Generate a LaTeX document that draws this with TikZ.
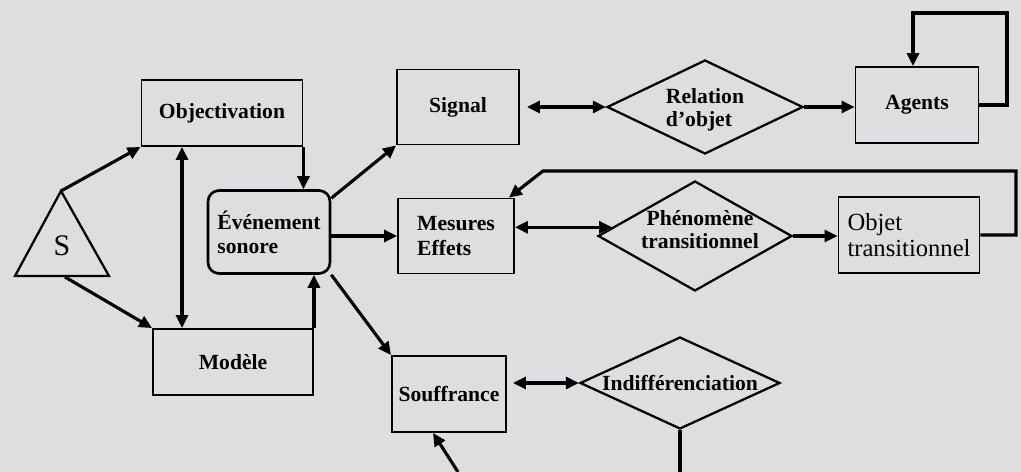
\documentclass[tikz,border=0pt]{standalone}
\usepackage{fontspec}
\setmainfont{Liberation Serif}
\usetikzlibrary{arrows.meta,shapes.geometric}

\definecolor{paper}{RGB}{221,222,224}

\tikzset{
  box/.style={draw, line width=1.1pt, rectangle, inner sep=2pt,
    font=\fontsize{12.3}{13.8}\selectfont\bfseries},
  dia/.style={draw, line width=1.3pt, diamond, inner sep=0pt},
  wire/.style={line width=1.8pt},
  arr/.style={wire, -{Triangle[length=0.26cm,width=0.24cm]}},
  dblarr/.style={wire, {Triangle[length=0.26cm,width=0.24cm]}-{Triangle[length=0.26cm,width=0.24cm]}},
  txt/.style={font=\fontsize{12.3}{13.2}\selectfont\bfseries, align=left}
}

\begin{document}
\begin{tikzpicture}[x=0.02cm, y=-0.02cm]
  \useasboundingbox (0,0) rectangle (1021,472);
  \fill[paper] (0,0) rectangle (1021,472);

  % Source triangle
  \coordinate (Stop) at (61,191);
  \coordinate (Sleft) at (15,276);
  \coordinate (Sright) at (109,276);
  \coordinate (Sbase) at (65,277);
  \draw[line width=1.3pt] (Stop) -- (Sleft) -- (Sright) -- cycle;
  \node[font=\fontsize{17}{17}\selectfont] (S) at (62,246) {S};

  % Left column
  \node[box, minimum width=3.22cm, minimum height=1.32cm] (obj) at (222,113) {Objectivation};
  \node[box, minimum width=3.2cm, minimum height=1.32cm] (mod) at (233,362) {Modèle};
  \node[box, line width=1.5pt, rounded corners=0.22cm, minimum width=2.44cm,
    minimum height=1.66cm, align=left] (ev) at (269,232) {Événement\\sonore};

  % Middle column
  \node[box, minimum width=2.44cm, minimum height=1.5cm] (sig) at (458,107) {Signal};
  \node[box, minimum width=2.32cm, minimum height=1.5cm, align=left] (mes) at (456,236) {Mesures\\Effets};
  \node[box, minimum width=2.28cm, minimum height=1.52cm] (souf) at (449,394) {Souffrance};

  % Diamonds
  \node[dia, minimum width=3.92cm, minimum height=1.88cm,
    label={[txt, yshift=-0.06cm]center:Relation\\d'objet}] (rel) at (705,107) {};
  \node[dia, minimum width=3.88cm, minimum height=2.2cm,
    label={[txt, align=center, xshift=0.1cm, yshift=0.12cm]center:Phénomène\\transitionnel}] (phe) at (695,236) {};
  \node[dia, minimum width=4.0cm, minimum height=1.84cm,
    label={[txt]center:Indifférenciation}] (ind) at (680,383) {};

  % Right column
  \node[box, minimum width=2.46cm, minimum height=1.52cm] (ag) at (917,105) {Agents};
  \node[box, font=\fontsize{14}{15}\selectfont, minimum width=2.82cm,
    minimum height=1.52cm, align=left] (obt) at (909,235) {Objet\\transitionnel};

  % Connections from S
  \draw[arr] (Stop) -- (obj.south west);
  \draw[arr] (Sbase) -- (mod.north west);
  \coordinate (link) at (182,0);
  \draw[dblarr] (obj.south -| link) -- (mod.north -| link);
  \draw[arr] (obj.south east) -- (obj.south east |- ev.north);
  \draw[arr] (mod.north east) -- (mod.north east |- ev.south);

  % From the sound event
  \draw[arr] ([yshift=-0.18cm]ev.north east) -- (sig.south west);
  \draw[arr] (ev.east |- mes.west) -- (mes.west);
  \draw[arr] (ev.south east) -- (souf.north west);

  % Top row
  \draw[dblarr, shorten <=0.14cm] (sig.east) -- (rel.west);
  \draw[arr] (rel.east) -- (rel.east -| ag.west);
  \coordinate (agloop) at (1007,13);
  \draw[arr] (ag.east) -| (agloop) -| ([xshift=-0.08cm]ag.north);

  % Middle row
  \draw[dblarr] (mes.east |- phe.174) -- (phe.174);
  \draw[arr] (phe.east) -- (phe.east -| obt.west);
  \coordinate (backr) at (1016,171);
  \coordinate (backl) at (543,171);
  \draw[arr] (obt.east) -| (backr) -- (backl) -- ([xshift=-0.12cm]mes.north east);

  % Bottom row
  \draw[dblarr, shorten <=0.12cm] (souf.east |- ind.west) -- (ind.west);
  \coordinate (bottom) at (0,472);
  \draw[wire] (ind.south) -- (ind.south |- bottom);
  \coordinate (soufin) at (458,472);
  \draw[arr] (soufin) -- ([xshift=-0.32cm]souf.south);
\end{tikzpicture}
\end{document}
